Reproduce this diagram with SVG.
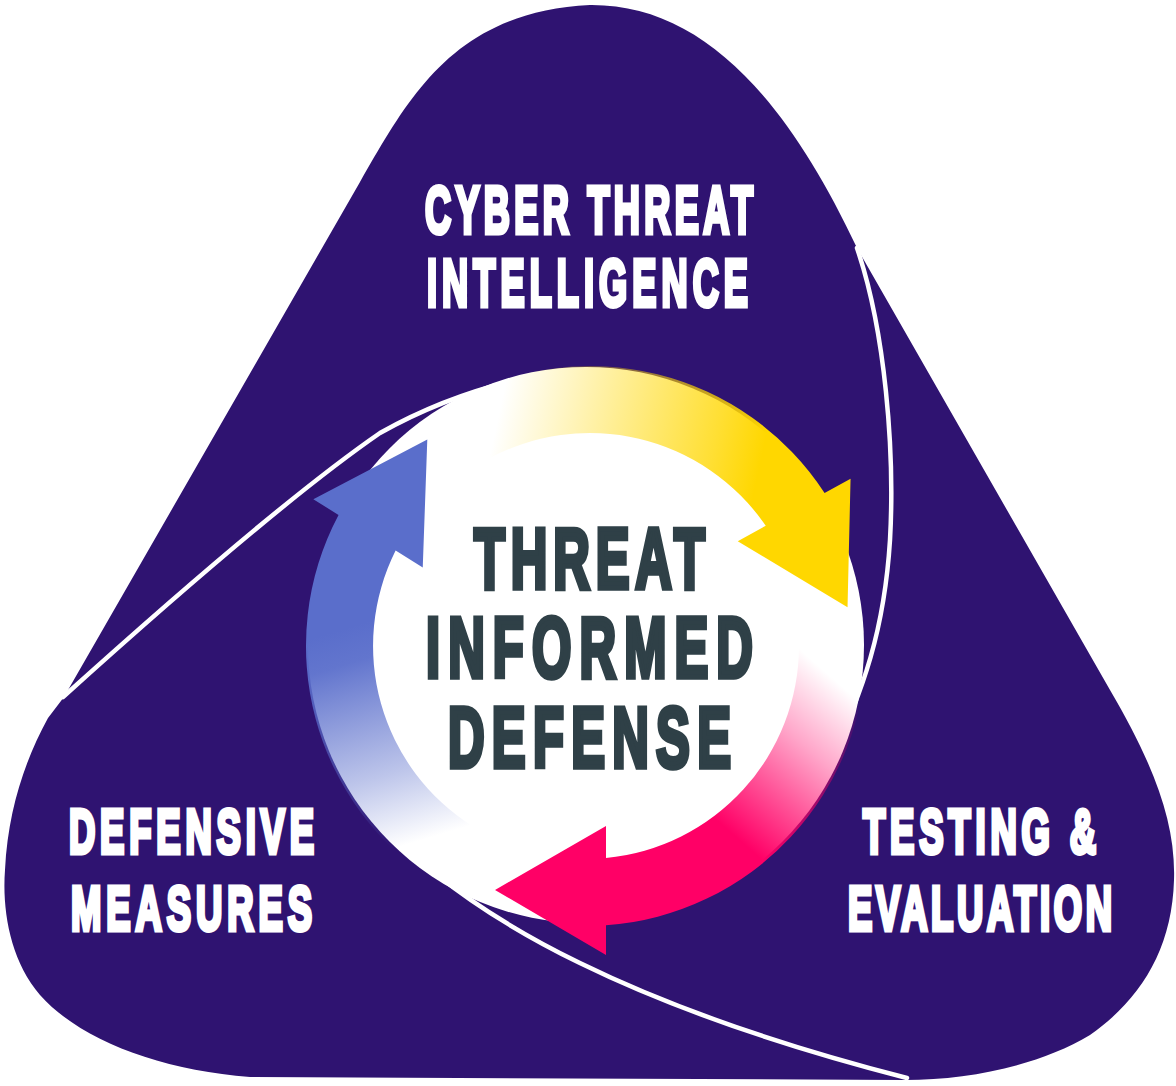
<svg xmlns="http://www.w3.org/2000/svg" width="1176" height="1086" viewBox="0 0 1176 1086">
<defs>
<style>
.bg{fill:#2F1371}
.line{fill:none;stroke:#fff;stroke-width:4.5;stroke-linecap:round}
.lbl{font-family:"Liberation Sans",Arial,sans-serif;font-weight:bold;fill:#fff;stroke:#fff;stroke-width:4;stroke-linejoin:miter;vector-effect:non-scaling-stroke}
.ctr{font-family:"Liberation Sans",Arial,sans-serif;font-weight:bold;fill:#2F4047;stroke:#2F4047;stroke-width:4.5;stroke-linejoin:miter;vector-effect:non-scaling-stroke}
</style>
<linearGradient id="gPink" gradientUnits="userSpaceOnUse" x1="868" y1="640" x2="640" y2="900">
<stop offset="0" stop-color="#FF0066" stop-opacity="0"/>
<stop offset="0.15" stop-color="#FF0066" stop-opacity="0"/>
<stop offset="0.35" stop-color="#FF0066" stop-opacity="0.35"/>
<stop offset="0.5" stop-color="#FF0066" stop-opacity="0.65"/>
<stop offset="0.68" stop-color="#FF0066" stop-opacity="1"/>
</linearGradient>
<linearGradient id="gYellow" gradientUnits="userSpaceOnUse" x1="868" y1="640" x2="640" y2="900">
<stop offset="0" stop-color="#FFD700" stop-opacity="0"/>
<stop offset="0.15" stop-color="#FFD700" stop-opacity="0"/>
<stop offset="0.4" stop-color="#FFD700" stop-opacity="0.32"/>
<stop offset="0.78" stop-color="#FFD700" stop-opacity="0.8"/>
<stop offset="0.92" stop-color="#FFD700" stop-opacity="1"/>
</linearGradient>
<linearGradient id="gBlue" gradientUnits="userSpaceOnUse" x1="868" y1="640" x2="640" y2="900">
<stop offset="0" stop-color="#5A6ECB" stop-opacity="0"/>
<stop offset="0.15" stop-color="#5A6ECB" stop-opacity="0"/>
<stop offset="0.36" stop-color="#5A6ECB" stop-opacity="0.4"/>
<stop offset="0.7" stop-color="#5A6ECB" stop-opacity="0.95"/>
<stop offset="0.8" stop-color="#5A6ECB" stop-opacity="1"/>
</linearGradient>
</defs>

<g id="background">
<path class="bg" d="M 48,718 L 64,697 L 360,182 C 410,95 455,12 590,5 C 700,4 785,95 857,248 L 1110,690 C 1152,762 1176,820 1174,880 C 1172,950 1140,1000 1090,1035 C 1040,1065 970,1080 905,1080 L 250,1077 C 160,1070 80,1040 40,995 C 10,960 2,910 5,870 C 8,810 25,760 48,718 Z"/>
</g>

<g id="connectors">
<path class="line" d="M 63,697 C 165,605 290,495 380,433 C 430,405 490,382 560,372"/>
<path class="line" d="M 857,248 C 885,330 895,450 890,540 C 885,620 868,690 815,790"/>
<path class="line" d="M 378,818 C 468,924 650,1012 907,1078"/>
</g>

<g id="node-center">
<circle cx="586" cy="645" r="278" fill="#fff"/>
<g id="cycle">
<path id="arrow-yellow" fill="url(#gYellow)" transform="translate(4 0) rotate(-119 586 646)" d="M 866,646 A 280 280 0 0 1 606,925.3 L 606,955 L 495,890 L 606,826 L 606,858 A 213 213 0 0 0 799,646 Z"/>
<path id="arrow-blue" fill="url(#gBlue)" transform="rotate(122 586 646)" d="M 866,646 A 280 280 0 0 1 606,925.3 L 606,955 L 495,890 L 606,826 L 606,858 A 213 213 0 0 0 799,646 Z"/>
<path id="arrow-pink" fill="url(#gPink)" d="M 866,646 A 280 280 0 0 1 606,925.3 L 606,955 L 495,890 L 606,826 L 606,858 A 213 213 0 0 0 799,646 Z"/>
</g>
<text class="ctr" transform="translate(474 587.8) scale(0.6 1)" x="0" y="0" font-size="84.5" textLength="385" lengthAdjust="spacing">THREAT</text>
<text class="ctr" transform="translate(426 677.3) scale(0.6 1)" x="0" y="0" font-size="84.5" textLength="545" lengthAdjust="spacing">INFORMED</text>
<text class="ctr" transform="translate(448 767.3) scale(0.6 1)" x="0" y="0" font-size="84.5" textLength="471.7" lengthAdjust="spacing">DEFENSE</text>
</g>

<g id="node-cti">
<text class="lbl" transform="translate(425 233) scale(0.54 1)" x="0" y="0" font-size="67" textLength="607.4" lengthAdjust="spacing">CYBER THREAT</text>
<text class="lbl" transform="translate(427 306) scale(0.54 1)" x="0" y="0" font-size="67" textLength="594.4" lengthAdjust="spacing">INTELLIGENCE</text>
</g>

<g id="node-dm">
<text class="lbl" transform="translate(69 853) scale(0.58 1)" x="0" y="0" font-size="62.8" textLength="422.4" lengthAdjust="spacing">DEFENSIVE</text>
<text class="lbl" transform="translate(71 930) scale(0.58 1)" x="0" y="0" font-size="62.8" textLength="415.5" lengthAdjust="spacing">MEASURES</text>
</g>

<g id="node-te">
<text class="lbl" transform="translate(863 853) scale(0.58 1)" x="0" y="0" font-size="62.8" textLength="401.7" lengthAdjust="spacing">TESTING &amp;</text>
<text class="lbl" transform="translate(848 930) scale(0.58 1)" x="0" y="0" font-size="62.8" textLength="455.2" lengthAdjust="spacing">EVALUATION</text>
</g>
</svg>
